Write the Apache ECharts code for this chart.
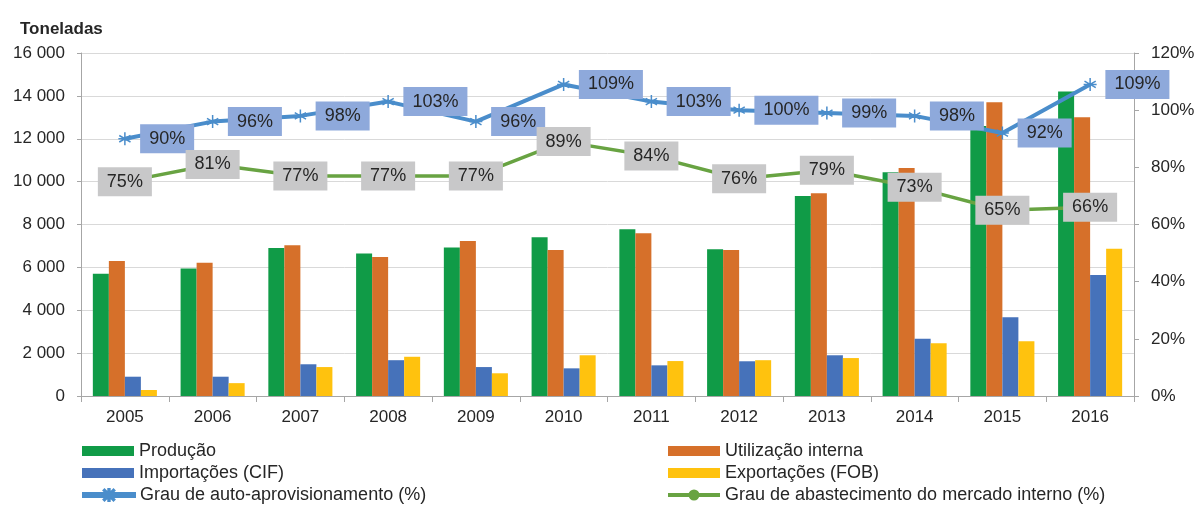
<!DOCTYPE html>
<html>
<head>
<meta charset="utf-8">
<script src="https://cdn.jsdelivr.net/npm/echarts@6/dist/echarts.min.js"></script>
<style>
html,body{margin:0;padding:0;background:#fff;}
#c{width:1200px;height:505px;}
</style>
</head>
<body>
<div id="c"></div>
<script>
const years = ['2005','2006','2007','2008','2009','2010','2011','2012','2013','2014','2015','2016'];
const producao = [5700, 5950, 6900, 6650, 6930, 7400, 7780, 6840, 9330, 10440, 12590, 14200];
const utilizacao = [6300, 6220, 7030, 6480, 7230, 6810, 7590, 6810, 9460, 10630, 13700, 13000];
const importacoes = [900, 900, 1480, 1670, 1350, 1290, 1430, 1620, 1900, 2670, 3670, 5640];
const exportacoes = [280, 600, 1350, 1830, 1060, 1900, 1630, 1670, 1770, 2460, 2550, 6870];
const grauAuto = [90, 96, 98, 103, 96, 109, 103, 100, 99, 98, 92, 109];
const grauAbast = [75, 81, 77, 77, 77, 89, 84, 76, 79, 73, 65, 66];
const leftTicks = {min: 0, max: 16000, interval: 2000};
const rightTicks = {min: 0, max: 120, interval: 20};
const legendLeft = ['Produção', 'Importações (CIF)', 'Grau de auto-aprovisionamento (%)'];
const legendRight = ['Utilização interna', 'Exportações (FOB)', 'Grau de abastecimento do mercado interno (%)'];

const FONT = "'Liberation Sans', Arial, sans-serif";
const TXT = '#262626';
const BLUE_LINE = '#4A8DCB';
const GREEN_LINE = '#68A342';
const chart = echarts.init(document.getElementById('c'), null, {renderer: 'canvas'});
const star = 'path://M0,-10L0,10M-8.66,-5L8.66,5M-8.66,5L8.66,-5M-10,0L10,0';

// legend icons (52 x 12 box)
const iconStarLine = 'path://M0,4L52,4L52,8L0,8Z' +
  'M25.3,0L26.7,0L26.7,12L25.3,12Z' +
  'M20.5,1.5L21.5,0.5L31.5,10.5L30.5,11.5Z' +
  'M30.5,0.5L31.5,1.5L21.5,11.5L20.5,10.5Z';
const iconDotLine = 'path://M0,4L52,4L52,8L0,8Z' +
  'M20.5,6A5.5,5.5 0 1,1 31.5,6A5.5,5.5 0 1,1 20.5,6Z';

const rowCenters = [450, 472, 494];
function legendItem(name, idx, col) {
  if (idx < 2) return {name: name, icon: 'rect'};
  return {name: name, icon: col === 0 ? iconStarLine : iconDotLine};
}
const legends = [];
[[legendLeft, 82], [legendRight, 668]].forEach(([names, x], col) => {
  names.forEach((n, i) => {
    const h = i < 2 ? 10 : 12;
    legends.push({
      left: x, top: rowCenters[i] - 8, orient: 'horizontal',
      itemWidth: 52, itemHeight: h, padding: 0,
      data: [legendItem(n, i, col)],
      textStyle: {fontFamily: FONT, fontSize: 18, color: TXT, lineHeight: 16}
    });
  });
});

const option = {
  animation: false,
  textStyle: {fontFamily: FONT, color: TXT},
  title: {
    text: 'Toneladas', left: 15, top: 16,
    textStyle: {fontFamily: FONT, fontSize: 17, fontWeight: 'bold', color: TXT}
  },
  grid: {left: 81, right: 66, top: 53, bottom: 109},
  legend: legends,
  xAxis: {
    type: 'category', data: years, boundaryGap: true,
    axisLine: {lineStyle: {color: '#A6A6A6', width: 1}},
    axisTick: {show: true, length: 6, lineStyle: {color: '#A6A6A6'}},
    axisLabel: {fontFamily: FONT, fontSize: 17, color: TXT, margin: 13}
  },
  yAxis: [
    {
      type: 'value', min: leftTicks.min, max: leftTicks.max, interval: leftTicks.interval,
      axisLine: {show: true, lineStyle: {color: '#A6A6A6'}},
      axisTick: {show: true, length: 4, lineStyle: {color: '#A6A6A6'}},
      splitLine: {lineStyle: {color: '#D9D9D9', width: 1}},
      axisLabel: {
        fontFamily: FONT, fontSize: 17, color: TXT, margin: 16,
        formatter: v => String(v).replace(/\B(?=(\d{3})+(?!\d))/g, ' ')
      }
    },
    {
      type: 'value', min: rightTicks.min, max: rightTicks.max, interval: rightTicks.interval,
      position: 'right',
      axisLine: {show: true, lineStyle: {color: '#A6A6A6'}},
      axisTick: {show: true, length: 5, lineStyle: {color: '#A6A6A6'}},
      splitLine: {show: false},
      axisLabel: {fontFamily: FONT, fontSize: 17, color: TXT, margin: 17, formatter: '{value}%'}
    }
  ],
  series: [
    {name: 'Produção', type: 'bar', data: producao, barGap: '0%', barCategoryGap: '27%',
     itemStyle: {color: '#109B47'}},
    {name: 'Utilização interna', type: 'bar', data: utilizacao, barGap: '0%', barCategoryGap: '27%',
     itemStyle: {color: '#D6702A'}},
    {name: 'Importações (CIF)', type: 'bar', data: importacoes, barGap: '0%', barCategoryGap: '27%',
     itemStyle: {color: '#4672BA'}},
    {name: 'Exportações (FOB)', type: 'bar', data: exportacoes, barGap: '0%', barCategoryGap: '27%',
     itemStyle: {color: '#FFC20E'}},
    {
      name: 'Grau de auto-aprovisionamento (%)', type: 'line', yAxisIndex: 1, data: grauAuto,
      symbol: star, symbolSize: 13,
      lineStyle: {color: BLUE_LINE, width: 4},
      itemStyle: {color: BLUE_LINE, borderColor: BLUE_LINE, borderWidth: 1.5},
      label: {
        show: true, position: 'right', distance: 8, formatter: '{c}%',
        backgroundColor: '#8EA9DB', padding: [5, 9, 5, 9],
        fontFamily: FONT, fontSize: 18, lineHeight: 19, color: TXT
      },
      z: 3
    },
    {
      name: 'Grau de abastecimento do mercado interno (%)', type: 'line', yAxisIndex: 1, data: grauAbast,
      symbol: 'circle', symbolSize: 10,
      lineStyle: {color: GREEN_LINE, width: 3.5},
      itemStyle: {color: GREEN_LINE},
      label: {
        show: true, position: 'inside', formatter: '{c}%',
        backgroundColor: '#C8C8C9', padding: [5, 9, 5, 9],
        fontFamily: FONT, fontSize: 18, lineHeight: 19, color: TXT
      },
      z: 4
    }
  ]
};
chart.setOption(option);
</script>
</body>
</html>
